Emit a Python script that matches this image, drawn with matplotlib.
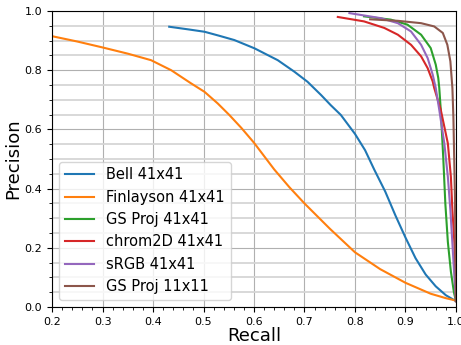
import numpy as np
import matplotlib
matplotlib.use("Agg")
import matplotlib.pyplot as plt
from matplotlib.ticker import MultipleLocator

# Curvas precision-recall
bell_r = [0.432, 0.47, 0.502, 0.53, 0.561, 0.601, 0.647, 0.68, 0.706, 0.733, 0.752, 0.772,
          0.80, 0.82, 0.838, 0.86, 0.88, 0.90, 0.92, 0.94, 0.96, 0.98, 1.0]
bell_p = [0.947, 0.938, 0.930, 0.917, 0.902, 0.874, 0.834, 0.795, 0.761, 0.716, 0.682, 0.649,
          0.585, 0.53, 0.465, 0.39, 0.31, 0.235, 0.165, 0.11, 0.07, 0.04, 0.02]

fin_r = [0.20, 0.25, 0.30, 0.35, 0.396, 0.436, 0.475, 0.502, 0.528, 0.551, 0.575, 0.60,
         0.64, 0.67, 0.70, 0.75, 0.80, 0.85, 0.90, 0.95, 0.98, 1.0]
fin_p = [0.915, 0.897, 0.877, 0.856, 0.834, 0.80, 0.756, 0.727, 0.688, 0.649, 0.605, 0.555,
         0.465, 0.405, 0.35, 0.265, 0.185, 0.128, 0.082, 0.045, 0.03, 0.022]

gs_r = [0.818, 0.871, 0.904, 0.931, 0.950, 0.960, 0.965, 0.967, 0.970, 0.975, 0.979, 0.984,
        0.990, 0.996, 1.0]
gs_p = [0.982, 0.971, 0.954, 0.920, 0.875, 0.819, 0.774, 0.740, 0.666, 0.50, 0.35, 0.22,
        0.12, 0.05, 0.02]

chrom_r = [0.766, 0.818, 0.858, 0.885, 0.911, 0.931, 0.944, 0.954, 0.957, 0.970, 0.984,
           0.990, 0.993, 0.997, 0.999, 1.0]
chrom_p = [0.980, 0.965, 0.943, 0.920, 0.886, 0.847, 0.807, 0.762, 0.740, 0.666, 0.553,
           0.44, 0.328, 0.215, 0.10, 0.02]

srgb_r = [0.789, 0.851, 0.885, 0.911, 0.931, 0.944, 0.954, 0.960, 0.967, 0.977, 0.984,
          0.989, 0.993, 0.997, 1.0]
srgb_p = [0.993, 0.976, 0.959, 0.931, 0.886, 0.841, 0.785, 0.740, 0.666, 0.553, 0.44,
          0.328, 0.215, 0.10, 0.02]

gs11_r = [0.83, 0.885, 0.931, 0.957, 0.974, 0.983, 0.989, 0.993, 0.995, 0.998, 1.0]
gs11_p = [0.972, 0.967, 0.959, 0.948, 0.926, 0.886, 0.830, 0.740, 0.64, 0.38, 0.02]

curvas = [
    (bell_r, bell_p, "Bell 41x41"),
    (fin_r, fin_p, "Finlayson 41x41"),
    (gs_r, gs_p, "GS Proj 41x41"),
    (chrom_r, chrom_p, "chrom2D 41x41"),
    (srgb_r, srgb_p, "sRGB 41x41"),
    (gs11_r, gs11_p, "GS Proj 11x11"),
]

fig = plt.figure(figsize=(4.61, 3.45), dpi=100)
ax = fig.add_axes([0.113, 0.110, 0.876, 0.858])

for r, p, nombre in curvas:
    ax.plot(r, p, linewidth=1.5, label=nombre)

ax.set_xlim(0.2, 1.0)
ax.set_ylim(0.0, 1.0)
ax.xaxis.set_major_locator(MultipleLocator(0.1))
ax.xaxis.set_minor_locator(MultipleLocator(0.02))
ax.yaxis.set_major_locator(MultipleLocator(0.2))
ax.yaxis.set_minor_locator(MultipleLocator(0.05))
ax.tick_params(labelsize=8)

ax.grid(True, which="major", color="#b0b0b0", linewidth=0.8)
ax.grid(True, which="minor", axis="y", color="#d5d5d5", linewidth=1.3)
ax.set_axisbelow(True)

ax.set_xlabel("Recall", fontsize=13, labelpad=0)
ax.set_ylabel("Precision", fontsize=13, labelpad=2)
ax.legend(loc="lower left", fontsize=10.5)

fig.savefig("out.png", dpi=100)
